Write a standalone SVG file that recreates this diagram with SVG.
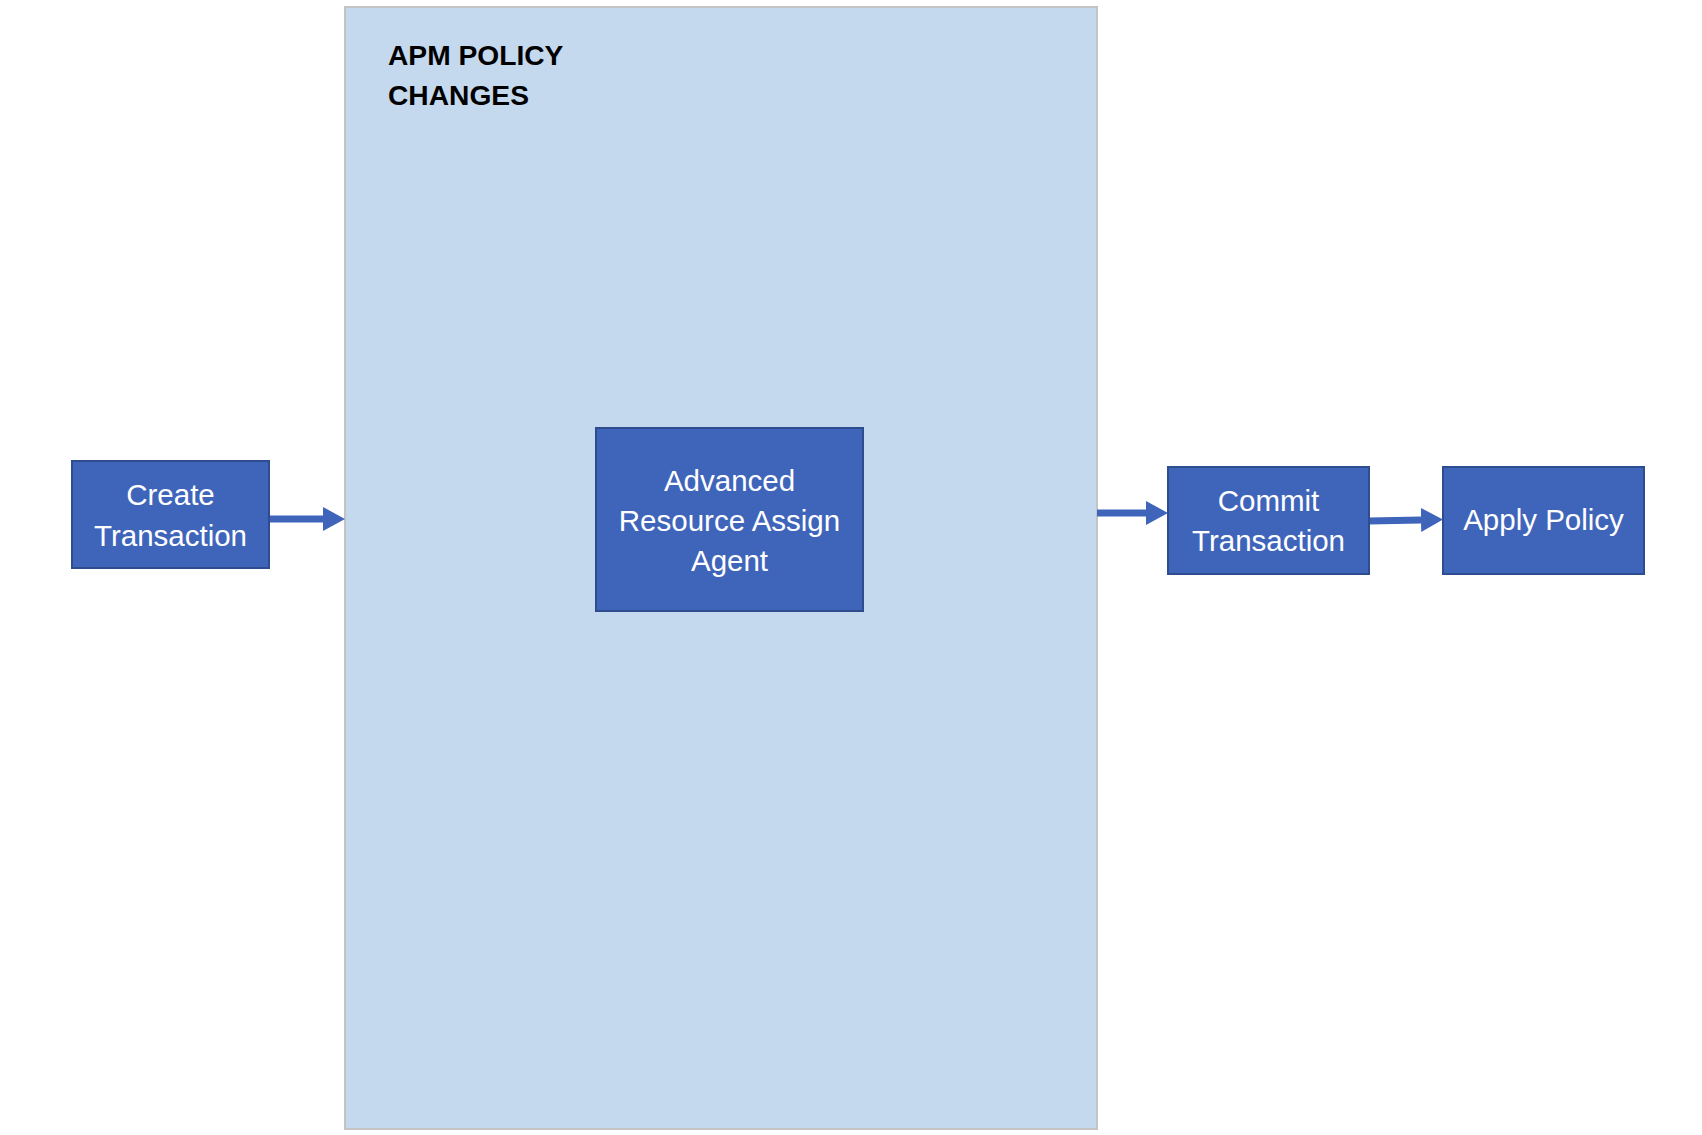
<svg xmlns="http://www.w3.org/2000/svg" width="1702" height="1135" viewBox="0 0 1702 1135">
<style>
.node{fill:#3F65BB;stroke:#2E4D8F;stroke-width:2}
.lbl{font-family:"Liberation Sans",Arial,sans-serif;font-size:29.5px;fill:#FFFFFF;text-anchor:middle}
.title{font-family:"Liberation Sans",Arial,sans-serif;font-size:28.2px;font-weight:bold;fill:#000000}
.conn{stroke:#3F65BB;stroke-width:7;fill:none}
</style>
<defs>
<marker id="ah" viewBox="0 0 22 24" refX="0" refY="12" markerWidth="22" markerHeight="24" markerUnits="userSpaceOnUse" orient="auto">
<path d="M0,0 L22,12 L0,24 Z" fill="#3F65BB"/>
</marker>
</defs>
<rect width="1702" height="1135" fill="#FFFFFF"/>
<g id="container">
<rect x="345" y="7" width="752" height="1122" fill="#C5D9EE" stroke="#C4C4C4" stroke-width="2"/>
<text class="title" x="388" y="65">APM POLICY</text>
<text class="title" x="388" y="105">CHANGES</text>
</g>
<g id="connectors">
<path class="conn" d="M269,519 L323,519" marker-end="url(#ah)"/>
<path class="conn" d="M1097,513 L1146,513" marker-end="url(#ah)"/>
<path class="conn" d="M1369,521 L1421,520" marker-end="url(#ah)"/>
</g>
<g id="create">
<rect class="node" x="72" y="461" width="197" height="107"/>
<text class="lbl" x="170.5" y="505">Create</text>
<text class="lbl" x="170.5" y="546">Transaction</text>
</g>
<g id="agent">
<rect class="node" x="596" y="428" width="267" height="183"/>
<text class="lbl" x="729.5" y="491">Advanced</text>
<text class="lbl" x="729.5" y="531">Resource Assign</text>
<text class="lbl" x="729.5" y="571">Agent</text>
</g>
<g id="commit">
<rect class="node" x="1168" y="467" width="201" height="107"/>
<text class="lbl" x="1268.5" y="511">Commit</text>
<text class="lbl" x="1268.5" y="551">Transaction</text>
</g>
<g id="apply">
<rect class="node" x="1443" y="467" width="201" height="107"/>
<text class="lbl" x="1543.5" y="530">Apply Policy</text>
</g>
</svg>
